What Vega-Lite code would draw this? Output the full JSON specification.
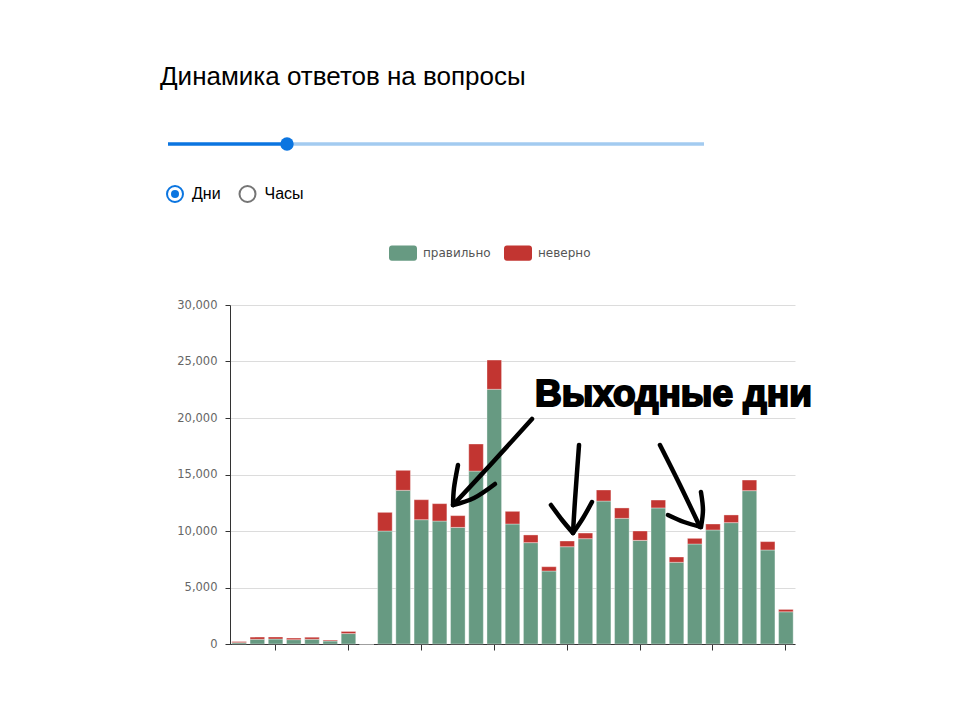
{
  "$schema": "https://vega.github.io/schema/vega-lite/v6.json",
  "background": "white",
  "padding": {"left": 160, "top": 64, "right": 5, "bottom": 5},
  "config": {"view": {"stroke": null}, "font": "DejaVu Sans"},
  "datasets": {
    "answers": [
      {"day": 1, "answer": "правильно", "count": 120}, {"day": 1, "answer": "неверно", "count": 100},
      {"day": 2, "answer": "правильно", "count": 415}, {"day": 2, "answer": "неверно", "count": 195},
      {"day": 3, "answer": "правильно", "count": 440}, {"day": 3, "answer": "неверно", "count": 180},
      {"day": 4, "answer": "правильно", "count": 385}, {"day": 4, "answer": "неверно", "count": 135},
      {"day": 5, "answer": "правильно", "count": 420}, {"day": 5, "answer": "неверно", "count": 180},
      {"day": 6, "answer": "правильно", "count": 265}, {"day": 6, "answer": "неверно", "count": 80},
      {"day": 7, "answer": "правильно", "count": 925}, {"day": 7, "answer": "неверно", "count": 185},
      {"day": 8, "answer": "правильно", "count": 0}, {"day": 8, "answer": "неверно", "count": 0},
      {"day": 9, "answer": "правильно", "count": 10000}, {"day": 9, "answer": "неверно", "count": 1650},
      {"day": 10, "answer": "правильно", "count": 13600}, {"day": 10, "answer": "неверно", "count": 1770},
      {"day": 11, "answer": "правильно", "count": 11000}, {"day": 11, "answer": "неверно", "count": 1770},
      {"day": 12, "answer": "правильно", "count": 10880}, {"day": 12, "answer": "неверно", "count": 1540},
      {"day": 13, "answer": "правильно", "count": 10320}, {"day": 13, "answer": "неверно", "count": 1040},
      {"day": 14, "answer": "правильно", "count": 15300}, {"day": 14, "answer": "неверно", "count": 2400},
      {"day": 15, "answer": "правильно", "count": 22540}, {"day": 15, "answer": "неверно", "count": 2590},
      {"day": 16, "answer": "правильно", "count": 10620}, {"day": 16, "answer": "неверно", "count": 1120},
      {"day": 17, "answer": "правильно", "count": 8970}, {"day": 17, "answer": "неверно", "count": 680},
      {"day": 18, "answer": "правильно", "count": 6460}, {"day": 18, "answer": "неверно", "count": 380},
      {"day": 19, "answer": "правильно", "count": 8610}, {"day": 19, "answer": "неверно", "count": 505},
      {"day": 20, "answer": "правильно", "count": 9320}, {"day": 20, "answer": "неверно", "count": 500},
      {"day": 21, "answer": "правильно", "count": 12650}, {"day": 21, "answer": "неверно", "count": 980},
      {"day": 22, "answer": "правильно", "count": 11120}, {"day": 22, "answer": "неверно", "count": 920},
      {"day": 23, "answer": "правильно", "count": 9170}, {"day": 23, "answer": "неверно", "count": 830},
      {"day": 24, "answer": "правильно", "count": 12040}, {"day": 24, "answer": "неверно", "count": 700},
      {"day": 25, "answer": "правильно", "count": 7230}, {"day": 25, "answer": "неверно", "count": 470},
      {"day": 26, "answer": "правильно", "count": 8850}, {"day": 26, "answer": "неверно", "count": 500},
      {"day": 27, "answer": "правильно", "count": 10090}, {"day": 27, "answer": "неверно", "count": 530},
      {"day": 28, "answer": "правильно", "count": 10740}, {"day": 28, "answer": "неверно", "count": 680},
      {"day": 29, "answer": "правильно", "count": 13570}, {"day": 29, "answer": "неверно", "count": 940},
      {"day": 30, "answer": "правильно", "count": 8320}, {"day": 30, "answer": "неверно", "count": 740},
      {"day": 31, "answer": "правильно", "count": 2850}, {"day": 31, "answer": "неверно", "count": 210}
    ],
    "notes": [
      {"note": "Выходные дни", "pos": 17.23, "count": 21063}
    ],
    "arrows": [
      {"stroke": "a1-shaft", "seq": 0, "pos": 17.07, "count": 19913},
      {"stroke": "a1-shaft", "seq": 1, "pos": 14.93, "count": 16107},
      {"stroke": "a1-shaft", "seq": 2, "pos": 12.74, "count": 12302},
      {"stroke": "a1-left", "seq": 0, "pos": 13.01, "count": 15842},
      {"stroke": "a1-left", "seq": 1, "pos": 12.79, "count": 13806},
      {"stroke": "a1-left", "seq": 2, "pos": 12.74, "count": 12302},
      {"stroke": "a1-right", "seq": 0, "pos": 12.74, "count": 12302},
      {"stroke": "a1-right", "seq": 1, "pos": 13.89, "count": 12921},
      {"stroke": "a1-right", "seq": 2, "pos": 15.04, "count": 14160},
      {"stroke": "a2-shaft", "seq": 0, "pos": 19.65, "count": 17612},
      {"stroke": "a2-shaft", "seq": 1, "pos": 19.43, "count": 12744},
      {"stroke": "a2-shaft", "seq": 2, "pos": 19.32, "count": 9824},
      {"stroke": "a2-left", "seq": 0, "pos": 18.11, "count": 12302},
      {"stroke": "a2-left", "seq": 1, "pos": 18.72, "count": 10974},
      {"stroke": "a2-left", "seq": 2, "pos": 19.32, "count": 9824},
      {"stroke": "a2-right", "seq": 0, "pos": 19.32, "count": 9824},
      {"stroke": "a2-right", "seq": 1, "pos": 19.87, "count": 11151},
      {"stroke": "a2-right", "seq": 2, "pos": 20.36, "count": 12567},
      {"stroke": "a3-shaft", "seq": 0, "pos": 24.09, "count": 17612},
      {"stroke": "a3-shaft", "seq": 1, "pos": 25.19, "count": 14072},
      {"stroke": "a3-shaft", "seq": 2, "pos": 26.29, "count": 10355},
      {"stroke": "a3-up", "seq": 0, "pos": 26.34, "count": 13452},
      {"stroke": "a3-up", "seq": 1, "pos": 26.45, "count": 11859},
      {"stroke": "a3-up", "seq": 2, "pos": 26.34, "count": 10355},
      {"stroke": "a3-left", "seq": 0, "pos": 24.53, "count": 11417},
      {"stroke": "a3-left", "seq": 1, "pos": 25.41, "count": 10797},
      {"stroke": "a3-left", "seq": 2, "pos": 26.34, "count": 10355}
    ],
    "slider": [
      {"widget": "slider", "part": "selected", "from": 0, "to": 0.222},
      {"widget": "slider", "part": "rest", "from": 0.222, "to": 1}
    ],
    "modes": [
      {"widget": "radio", "option": "Дни", "checked": true},
      {"widget": "radio", "option": "Часы", "checked": false}
    ]
  },
  "spacing": 20,
  "resolve": {"scale": {"x": "independent", "y": "independent", "color": "independent"}},
  "vconcat": [
    {
      "width": 560,
      "height": 100,
      "title": {
        "text": "Динамика ответов на вопросы",
        "anchor": "start",
        "font": "Liberation Sans",
        "fontSize": 26,
        "fontWeight": "normal",
        "color": "#000000",
        "offset": 29,
        "dx": -3
      },
      "resolve": {"scale": {"x": "independent"}},
      "layer": [
        {
          "data": {"name": "slider"},
          "transform": [{"filter": "datum.part == 'rest'"}],
          "mark": {"type": "rule", "strokeWidth": 3.5, "color": "#a3cbf0"},
          "encoding": {
            "x": {"field": "from", "type": "quantitative", "scale": {"domain": [0, 1], "range": [-62, 474], "nice": false}, "axis": null},
            "x2": {"field": "to"},
            "y": {"field": "widget", "type": "nominal", "scale": {"type": "point", "domain": ["slider", "radio"], "padding": 0.5}, "axis": null}
          }
        },
        {
          "data": {"name": "slider"},
          "transform": [{"filter": "datum.part == 'selected'"}],
          "mark": {"type": "rule", "strokeWidth": 3.5, "color": "#0b75e0"},
          "encoding": {
            "x": {"field": "from", "type": "quantitative", "scale": {"domain": [0, 1], "range": [-62, 474], "nice": false}, "axis": null},
            "x2": {"field": "to"},
            "y": {"field": "widget", "type": "nominal", "axis": null}
          }
        },
        {
          "data": {"name": "slider"},
          "transform": [{"filter": "datum.part == 'selected'"}],
          "mark": {"type": "point", "shape": "circle", "filled": true, "size": 180, "color": "#0b75e0", "opacity": 1},
          "encoding": {
            "x": {"field": "to", "type": "quantitative", "scale": {"domain": [0, 1], "range": [-62, 474], "nice": false}, "axis": null},
            "y": {"field": "widget", "type": "nominal", "axis": null}
          }
        },
        {
          "data": {"name": "modes"},
          "mark": {"type": "point", "shape": "circle", "filled": false, "size": 256, "strokeWidth": 2, "opacity": 1},
          "encoding": {
            "x": {"field": "option", "type": "nominal", "scale": {"type": "point", "domain": ["Дни", "Часы"], "range": [-55, 17.5], "padding": 0}, "axis": null},
            "y": {"field": "widget", "type": "nominal", "axis": null},
            "stroke": {"condition": {"test": "datum.checked", "value": "#0b75e0"}, "value": "#757575"}
          }
        },
        {
          "data": {"name": "modes"},
          "transform": [{"filter": "datum.checked"}],
          "mark": {"type": "point", "shape": "circle", "filled": true, "size": 64, "color": "#0b75e0", "opacity": 1},
          "encoding": {
            "x": {"field": "option", "type": "nominal", "scale": {"type": "point", "domain": ["Дни", "Часы"], "range": [-55, 17.5], "padding": 0}, "axis": null},
            "y": {"field": "widget", "type": "nominal", "axis": null}
          }
        },
        {
          "data": {"name": "modes"},
          "mark": {"type": "text", "align": "left", "baseline": "middle", "dx": 17, "font": "Liberation Sans", "fontSize": 16, "color": "#000000"},
          "encoding": {
            "x": {"field": "option", "type": "nominal", "scale": {"type": "point", "domain": ["Дни", "Часы"], "range": [-55, 17.5], "padding": 0}, "axis": null},
            "y": {"field": "widget", "type": "nominal", "axis": null},
            "text": {"field": "option"}
          }
        }
      ]
    },
    {
      "width": 565,
      "height": 339,
      "resolve": {"scale": {"x": "independent"}, "axis": {"x": "independent"}},
      "layer": [
        {
          "data": {"name": "answers"},
          "mark": {"type": "bar", "stroke": "#ffffff", "strokeOpacity": 0.35, "strokeWidth": 1},
          "encoding": {
            "x": {
              "field": "day",
              "type": "ordinal",
              "scale": {"paddingInner": 0.2, "paddingOuter": 0.1},
              "axis": {
                "values": [3, 7, 11, 15, 19, 23, 27, 31],
                "labels": false,
                "ticks": true,
                "tickSize": 6,
                "tickColor": "#333333",
                "domainColor": "#333333",
                "grid": false,
                "title": null
              }
            },
            "y": {
              "field": "count",
              "type": "quantitative",
              "stack": "zero",
              "scale": {"domain": [0, 30000], "nice": false},
              "axis": {
                "values": [0, 5000, 10000, 15000, 20000, 25000, 30000],
                "format": ",d",
                "grid": true,
                "gridColor": "#dcdcdc",
                "labelColor": "#666666",
                "labelFont": "DejaVu Sans",
                "labelFontSize": 11.5,
                "labelPadding": 8,
                "tickSize": 5,
                "tickColor": "#333333",
                "domainColor": "#333333",
                "minExtent": 70,
                "title": null
              }
            },
            "color": {
              "field": "answer",
              "type": "nominal",
              "scale": {"domain": ["правильно", "неверно"], "range": ["#679a82", "#c23531"]},
              "legend": {
                "title": null,
                "orient": "none",
                "direction": "horizontal",
                "legendX": 159,
                "legendY": -66,
                "symbolType": "M-0.8,-0.55H0.8A0.2,0.2,0,0,1,1,-0.35V0.35A0.2,0.2,0,0,1,0.8,0.55H-0.8A0.2,0.2,0,0,1,-1,0.35V-0.35A0.2,0.2,0,0,1,-0.8,-0.55Z",
                "symbolSize": 784,
                "symbolStrokeWidth": 0,
                "labelFont": "DejaVu Sans",
                "labelFontSize": 12,
                "labelColor": "#555555",
                "labelOffset": 6,
                "columnPadding": 12
              }
            },
            "order": {"field": "answer", "sort": "descending"}
          }
        },
        {
          "data": {"name": "notes"},
          "mark": {"type": "text", "align": "left", "baseline": "alphabetic", "font": "Liberation Sans", "fontWeight": "bold", "fontSize": 37, "color": "#000000", "stroke": "#000000", "strokeWidth": 2},
          "encoding": {
            "x": {"field": "pos", "type": "quantitative", "scale": {"domain": [0.5, 31.5], "nice": false, "zero": false}, "axis": null},
            "y": {"field": "count", "type": "quantitative", "title": null},
            "text": {"field": "note"}
          }
        },
        {
          "data": {"name": "arrows"},
          "mark": {"type": "line", "color": "#000000", "strokeWidth": 4.5, "strokeCap": "round", "strokeJoin": "round", "interpolate": "cardinal"},
          "encoding": {
            "x": {"field": "pos", "type": "quantitative", "scale": {"domain": [0.5, 31.5], "nice": false, "zero": false}, "axis": null},
            "y": {"field": "count", "type": "quantitative", "title": null},
            "detail": {"field": "stroke"},
            "order": {"field": "seq"}
          }
        }
      ]
    }
  ]
}
